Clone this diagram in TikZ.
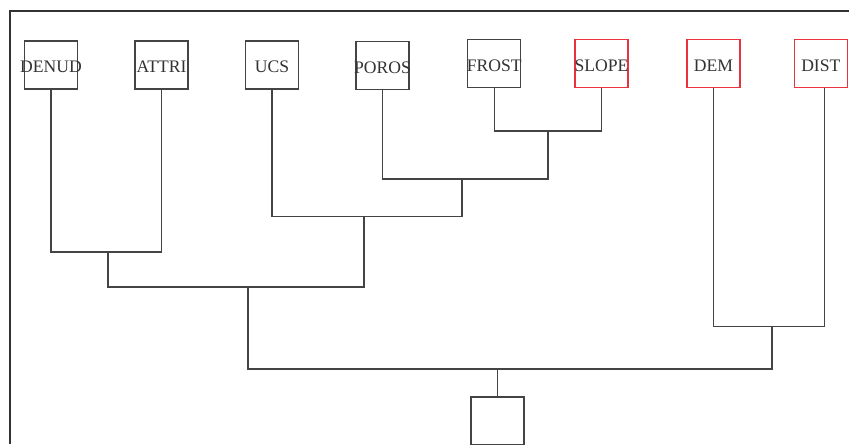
\documentclass[tikz,border=0pt]{standalone}
\usepackage{fontspec}
\setmainfont{Liberation Serif}
\definecolor{lin}{HTML}{444444}
\definecolor{frm}{HTML}{333333}
\definecolor{txt}{HTML}{333333}
\definecolor{redb}{HTML}{E8333F}
\begin{document}
\begin{tikzpicture}[x=0.75pt,y=-0.75pt,
  box/.style={draw=lin,line width=0.8pt,minimum width=53*0.75pt,minimum height=48*0.75pt,inner sep=0pt,outer sep=0pt,
    label={[lbl,yshift=-1.5pt]center:#1}},
  rbox/.style={box=#1,draw=redb},
  lbl/.style={text=txt,font=\fontsize{13.2pt}{15pt}\selectfont,inner sep=0pt},
  wire/.style={draw=lin,line width=0.8pt},
  frame/.style={draw=frm,line width=1.6pt}]
\clip (0,0) rectangle (849,444);
\useasboundingbox (0,0) rectangle (849,444);
\fill[white] (0,0) rectangle (849,444);
\draw[frame] (10,444) -- (10,11) -- (849,11);
% leaf boxes
\node[box=DENUD] (denud) at (51,65) {};
\node[box=ATTRI] (attri) at (161.5,65) {};
\node[box=UCS] (ucs) at (272,65) {};
\node[box=POROS] (poros) at (382.5,65.5) {};
\node[box=FROST] (frost) at (494.3,63.8) {};
\node[rbox=SLOPE] (slope) at (601.5,63.7) {};
\node[rbox=DEM] (dem) at (713.5,63.7) {};
\node[rbox=DIST] (dist) at (820.8,63.7) {};
\node[box={}] (root) at (497.5,421) {};
% junctions
\coordinate (c1) at (548,131);
\coordinate (c2) at (462,179);
\coordinate (c3) at (364,216.5);
\coordinate (c4) at (108,252);
\coordinate (c5) at (248,287);
\coordinate (c6) at (772,326.5);
\coordinate (c7) at (497.5,369);
\draw[wire] (frost.south) |- (c1) -| (slope.south);
\draw[wire] (poros.south) |- (c2) -| (c1);
\draw[wire] (ucs.south) |- (c3) -| (c2);
\draw[wire] (denud.south) |- (c4) -| (attri.south);
\draw[wire] (c4) |- (c5) -| (c3);
\draw[wire] (dem.south) |- (c6) -| ([xshift=3pt]dist.south);
\draw[wire] (c5) |- (c7) -| (c6);
\draw[wire] (c7) -- (root.north);
\end{tikzpicture}
\end{document}
